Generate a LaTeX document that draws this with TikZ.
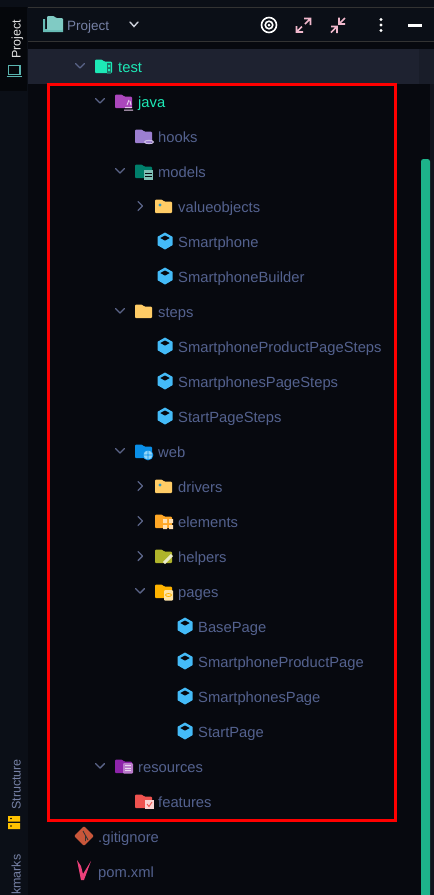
\documentclass[tikz,border=0pt]{standalone}
\usepackage{fontspec}
\setmainfont{Liberation Sans}
\definecolor{bgmain}{HTML}{07090F}
\definecolor{bgside}{HTML}{0B0F17}
\definecolor{bgtab}{HTML}{05070B}
\definecolor{bgrow}{HTML}{1E2230}
\definecolor{txt}{HTML}{54628F}
\definecolor{mint}{HTML}{1DE9B6}
\definecolor{chev}{HTML}{5A6488}
\definecolor{cube}{HTML}{44BBF8}
\definecolor{redb}{HTML}{FF0000}
\definecolor{pinkicon}{HTML}{F0B8CC}
\definecolor{scroll}{HTML}{1DB38A}
\definecolor{fyel}{HTML}{FFCC66}
\definecolor{fjava}{HTML}{AB47BC}
\definecolor{fhook}{HTML}{9C7FD0}
\definecolor{fmodel}{HTML}{007F6B}
\definecolor{fweb}{HTML}{0A8FE8}
\definecolor{felem}{HTML}{FFA726}
\definecolor{fhelp}{HTML}{AFB42B}
\definecolor{fpage}{HTML}{FFB300}
\definecolor{fres}{HTML}{8E24AA}
\definecolor{ffeat}{HTML}{EF5350}
\definecolor{git}{HTML}{C8563A}
\definecolor{pom}{HTML}{EC407A}
\definecolor{ftool}{HTML}{80CBC4}
\tikzset{x=1pt,y=-1pt,
 lbl/.style={anchor=base west,inner sep=0pt,text=txt,font=\fontsize{14.75}{16}\selectfont},
 side/.style={anchor=base west,inner sep=0pt,rotate=90,font=\fontsize{12.5}{14}\selectfont},
 chevline/.style={draw=chev,line width=1.4pt,line cap=round,line join=round},
 pinkline/.style={draw=pinkicon,line width=1.6pt}}
\newcommand{\fld}[3]{\fill[#3,rounded corners=1pt] (#1,#2) -- (#1+7,#2) -- (#1+9,#2+2) -- (#1+17,#2+2) -- (#1+17,#2+13.5) -- (#1,#2+13.5) -- cycle;}
\newcommand{\chd}[2]{\draw[chevline] (#1-4.5,#2-2.5) -- (#1,#2+2) -- (#1+4.5,#2-2.5);}
\newcommand{\chr}[2]{\draw[chevline] (#1-2,#2-4.5) -- (#1+2.5,#2) -- (#1-2,#2+4.5);}
\newcommand{\cb}[2]{\fill[cube] (#1,#2-8.5) -- (#1+7.5,#2-4.2) -- (#1+7.5,#2+4.2) -- (#1,#2+8.5) -- (#1-7.5,#2+4.2) -- (#1-7.5,#2-4.2) -- cycle;
 \fill[bgmain] (#1,#2-5.5) -- (#1+4.7,#2-3) -- (#1,#2-0.4) -- (#1-4.7,#2-3) -- cycle;}
\begin{document}
\begin{tikzpicture}
\useasboundingbox (0,0) rectangle (434,895);
\fill[bgmain] (0,0) rectangle (434,895);
\fill[bgside] (0,0) rectangle (28,895);
\fill[bgside] (28,0) rectangle (434,7);
\fill[bgtab] (0,7) rectangle (27,91);
\fill[bgside] (28,8) rectangle (434,41);
\draw[black!80,line width=.6pt] (28,7.5) -- (434,7.5) (28,41.5) -- (434,41.5);
\fill[bgrow] (28,49) rectangle (419,84);
\fill[bgrow!85!black] (419,49) rectangle (434,84);
\fill[bgrow!60!black] (430,84) rectangle (434,895);
% scroll bar
\fill[scroll,rounded corners=2.5pt] (421,159) rectangle (430,900);
% sidebar
\node[side,text=white!90!black] (project) at (20.5,59) {Project};
\draw[ftool!70!teal,line width=1.2pt] (8.5,65.5) rectangle (20,74.5);
\draw[ftool!70!teal,line width=1.2pt] (6.5,76.5) -- (22,76.5);
\node[side,text=txt!80!white] (structure) at (20.5,810) {Structure};
\fill[fpage!80!yellow] (8,816) rectangle (20,821.5) (8,823) rectangle (20,829);
\fill[black] (11,818.5) circle (.8) (11,826) circle (.8);
\node[side,text=txt!80!white] (bookmarks) at (20.5,895) {kmarks};
% toolbar
\fill[ftool!80!teal] (45,19) -- (45,29) -- (63,29) -- (63,32) -- (43,32) -- (43,19) -- cycle;
\fill[ftool,rounded corners=1pt] (47,16) -- (54,16) -- (56,18) -- (63,18) -- (63,30) -- (47,30) -- cycle;
\node[lbl,font=\fontsize{13.5}{16}\selectfont,text=txt!80!white] (tproject) at (67,30) {Project};
\draw[draw=white!70!chev,line width=1.4pt,line cap=round] (130,22) -- (134,26.5) -- (138,22);
\draw[white,line width=1.6pt] (269,25) circle (7.5);
\draw[white,line width=1.6pt] (269,25) circle (3.8);
\fill[white] (269,25) circle (1.5);
% expand
\draw[pinkline] (296.5,26) -- (296.5,32) -- (303,32) (297,31.5) -- (302,26.5);
\draw[pinkline] (304,18.5) -- (310.5,18.5) -- (310.5,25) (310,19) -- (305,24);
% collapse
\draw[pinkline] (331,26.5) -- (337,26.5) -- (337,33) (336.5,27) -- (331,32.5);
\draw[pinkline] (339,17.5) -- (339,24) -- (345,24) (339.5,23.5) -- (345,18);
\fill[white] (381,19.5) circle (1.6) (381,25) circle (1.6) (381,30.5) circle (1.6);
\fill[white] (408,23.5) rectangle (422,26.5);
% tree
\chd{80}{66}\fld{95}{59.5}{mint}
\fill[bgrow!60!mint] (107,63) rectangle (111,74); \fill[mint] (108,65) rectangle (110,67) (108,69) rectangle (110,71);
\node[lbl,text=mint] (test) at (118,72) {test};
\chd{100}{101}\fld{115}{94.5}{fjava}
\draw[fjava!30!white,line width=1pt] (124,110) -- (133,110) (125,107.5) -- (132,107.5) (129,100) -- (127,105) (130,101) -- (131,105);
\node[lbl,text=mint] (java) at (138,107) {java};
\fld{135}{129.5}{fhook}
\draw[fhook!50!white,line width=1pt] (149,142) ellipse (4.5 and 1.7);
\node[lbl] (hooks) at (158,142) {hooks};
\chd{120}{171}\fld{135}{164.5}{fmodel}
\fill[fmodel!50!white] (144,170) rectangle (153,180);
\draw[bgmain,line width=.7pt] (145,173) -- (152,173) (145,176.5) -- (152,176.5);
\node[lbl] (models) at (158,177) {models};
\chr{140}{206}\fld{155}{199.5}{fyel}
\fill[cyan!50!teal] (160,205) circle (1.7);
\node[lbl] (valueobjects) at (178,212) {valueobjects};
\cb{165}{241}\node[lbl] (smartphone) at (178,247) {Smartphone};
\cb{165}{276}\node[lbl] (builder) at (178,282) {SmartphoneBuilder};
\chd{120}{311}\fld{135}{304.5}{fyel}
\node[lbl] (steps) at (158,317) {steps};
\cb{165}{346}\node[lbl] (s1) at (178,352) {SmartphoneProductPageSteps};
\cb{165}{381}\node[lbl] (s2) at (178,387) {SmartphonesPageSteps};
\cb{165}{416}\node[lbl] (s3) at (178,422) {StartPageSteps};
\chd{120}{451}\fld{135}{444.5}{fweb}
\fill[cube!60!white] (148,455) circle (5);
\draw[fweb,line width=.6pt] (148,455) circle (5) (143,455) -- (153,455) (148,450) -- (148,460);
\node[lbl] (web) at (158,457) {web};
\chr{140}{486}\fld{155}{479.5}{fyel}
\fill[cyan!50!teal] (160,485) circle (1.7);
\node[lbl] (drivers) at (178,492) {drivers};
\chr{140}{521}\fld{155}{514.5}{felem}
\fill[felem!35!white] (163,519) rectangle (167,523) (169,519) rectangle (173,523) (163,525) rectangle (167,529) (169,525) rectangle (173,529);
\node[lbl] (elements) at (178,527) {elements};
\chr{140}{556}\fld{155}{549.5}{fhelp}
\draw[fhelp!25!white,line width=3pt] (164,563) -- (172,555);
\node[lbl] (helpers) at (178,562) {helpers};
\chd{140}{591}\fld{155}{584.5}{fpage}
\fill[fpage!35!white,rounded corners=1pt] (164,590) rectangle (173,600.5);
\draw[fpage,line width=.8pt] (168.5,595) ellipse (3 and 1.5);
\node[lbl] (pages) at (178,597) {pages};
\cb{185}{626}\node[lbl] (basepage) at (198,632) {BasePage};
\cb{185}{661}\node[lbl] (spp) at (198,667) {SmartphoneProductPage};
\cb{185}{696}\node[lbl] (sp) at (198,702) {SmartphonesPage};
\cb{185}{731}\node[lbl] (start) at (198,737) {StartPage};
\chd{100}{766}\fld{115}{759.5}{fres}
\fill[fres!60!white,rounded corners=1pt] (123,763) rectangle (133,773.5);
\draw[white!80!fres,line width=.7pt] (125,765.5) -- (131,765.5) (125,768) -- (131,768) (125,770.5) -- (131,770.5);
\node[lbl] (resources) at (138,772) {resources};
\fld{135}{794.5}{ffeat}
\fill[ffeat!25!white] (145,800) rectangle (154,808.5);
\draw[ffeat,line width=.9pt] (147,804) -- (149,806.5) -- (152,802);
\node[lbl] (features) at (158,807) {features};
\fill[git,rotate around={45:(84,836)},rounded corners=1pt] (77,829) rectangle (91,843);
\draw[black!80,line width=.9pt] (83,831) -- (88,840) (85.5,835.5) -- (85.5,841);
\node[lbl] (gitignore) at (98,842) {.gitignore};
\fill[pom] (77,860) -- (81,866) -- (83,874) -- (91,861) -- (84,880) -- (81,880) -- cycle;
\node[lbl] (pomxml) at (98,877) {pom.xml};
% red frame
\draw[redb,line width=3pt] (48,84) rectangle (395.5,820);
\end{tikzpicture}
\end{document}
